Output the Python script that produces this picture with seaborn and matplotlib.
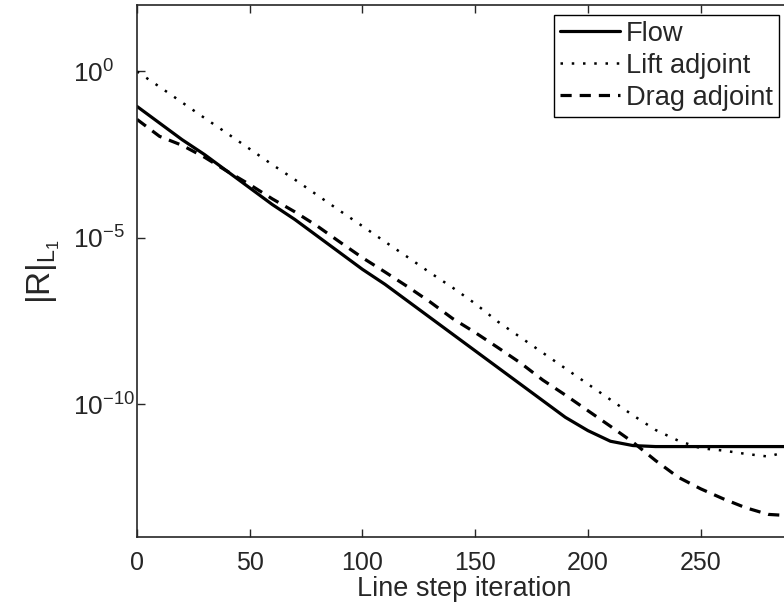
import numpy as np
import pandas as pd
import seaborn as sns
import matplotlib.pyplot as plt

# line step iterations
iters = [0, 10, 20, 30, 40, 50, 60, 70, 80, 90, 100, 110, 120, 130, 140, 150,
         160, 170, 180, 190, 200, 210, 220, 230, 240, 250, 260, 270, 280, 290, 300]

# log10 of the residual norm
flow_log = [-1.05, -1.55, -2.05, -2.5, -3.0, -3.5, -4.0, -4.45, -4.95, -5.45, -5.95,
            -6.4, -6.9, -7.4, -7.9, -8.4, -8.9, -9.4, -9.9, -10.4, -10.8, -11.12,
            -11.25, -11.28, -11.28, -11.28, -11.28, -11.28, -11.28, -11.28, -11.28]
lift_log = [0.0, -0.46, -0.93, -1.4, -1.86, -2.33, -2.8, -3.25, -3.72, -4.19, -4.65,
            -5.12, -5.58, -6.05, -6.5, -6.98, -7.52, -7.99, -8.46, -8.93, -9.4, -9.87,
            -10.34, -10.78, -11.1, -11.33, -11.4, -11.5, -11.58, -11.4, -11.3]
drag_log = [-1.44, -1.95, -2.22, -2.58, -3.0, -3.4, -3.83, -4.22, -4.65, -5.13, -5.6,
            -6.03, -6.47, -6.93, -7.43, -7.85, -8.3, -8.76, -9.28, -9.73, -10.2, -10.67,
            -11.15, -11.7, -12.2, -12.55, -12.85, -13.12, -13.32, -13.36, -13.37]

series = ['Flow', 'Lift adjoint', 'Drag adjoint']

df = pd.DataFrame({
    'iteration': iters * 3,
    'residual': 10.0 ** np.array(flow_log + lift_log + drag_log),
    'series': [s for s in series for _ in iters],
})

sns.set_style('ticks')
plt.rcParams['font.family'] = ['Liberation Sans', 'DejaVu Sans']
plt.rcParams['mathtext.default'] = 'regular'

fig = plt.figure(figsize=(7.84, 6.07), dpi=100)
# axes runs a little past the right edge, as in the (cropped) original
ax = fig.add_axes([0.1747, 0.1153, 0.834, 0.8765])

sns.lineplot(
    data=df, x='iteration', y='residual', style='series',
    dashes={'Flow': '', 'Lift adjoint': (1, 3.5), 'Drag adjoint': (3.5, 2.5)},
    color='black', linewidth=2.3, legend=False, ax=ax
)
lines = ax.get_lines()
lines[1].set_linewidth(1.8)

ax.set_yscale('log')
ax.set_xlim(0, 290)
ax.set_ylim(1e-14, 1e2)
ax.set_xticks([0, 50, 100, 150, 200, 250])
ax.set_yticks([1e-10, 1e-5, 1e0])
ax.minorticks_off()
ax.tick_params(direction='in', top=True, right=False, length=6, width=1)
ax.tick_params(axis='x', labelsize=18, pad=10)
ax.tick_params(axis='y', labelsize=19, pad=46)
plt.setp(ax.get_yticklabels(), ha='left')
for sp in ax.spines.values():
    sp.set_linewidth(1.2)
    sp.set_visible(True)

ax.set_xlabel('Line step iteration', fontsize=19.5, labelpad=1)
ax.set_ylabel('$|R|_{L_1}$', fontsize=24, labelpad=8)

leg = ax.legend(lines, series, loc='upper right', bbox_to_anchor=(0.993, 0.976),
                bbox_transform=fig.transFigure, borderaxespad=0, fontsize=19.6,
                handlelength=2.2, handletextpad=0.22, labelspacing=0.22,
                borderpad=0.22, fancybox=False, framealpha=1)
leg.get_frame().set_edgecolor('black')
leg.get_frame().set_linewidth(1.0)

fig.savefig('out.png', dpi=100)
